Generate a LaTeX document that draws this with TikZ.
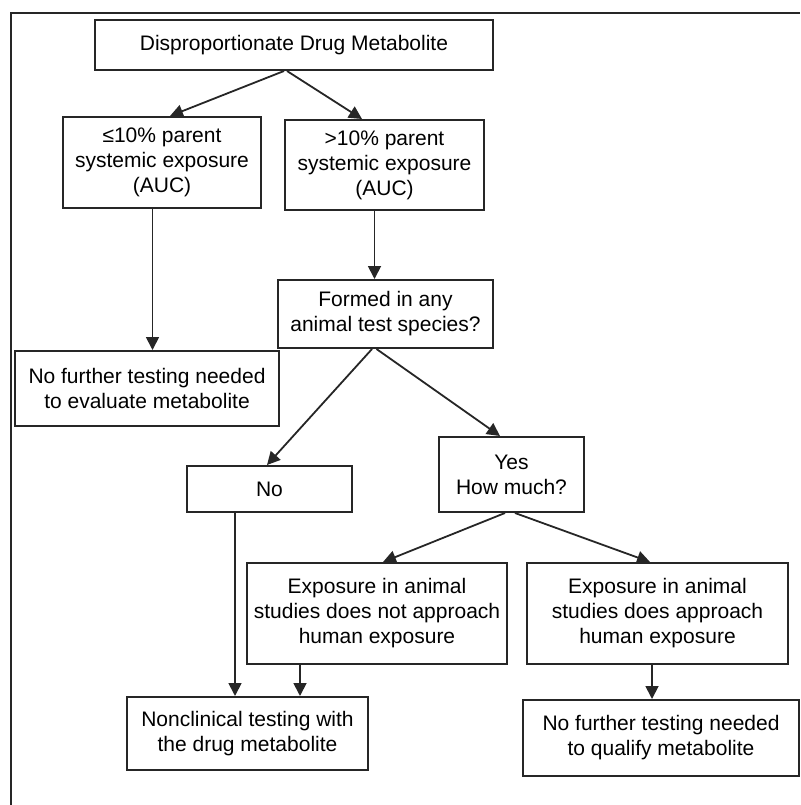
\documentclass[tikz,border=0pt]{standalone}
\usepackage{fontspec}
\setmainfont{Liberation Sans}
\usetikzlibrary{arrows.meta,calc}
\begin{document}
\begin{tikzpicture}[x=1pt,y=-1pt,
  box/.style={draw=black!85,line width=2pt,rectangle,align=center,inner sep=0pt,
    font=\fontsize{21}{25}\selectfont,text=black},
  arr/.style={draw=black!85,line width=1.8pt,-{Triangle[length=13pt,width=13pt]}},
  frame/.style={draw=black!85,line width=2.5pt}]
\useasboundingbox (0,0) rectangle (800,805);
\node[box,minimum width=398pt,minimum height=50pt] (top) at (294,45) {Disproportionate Drug Metabolite};
\node[box,minimum width=198pt,minimum height=91pt] (le) at (162,162.5) {≤10\% parent\\systemic exposure\\(AUC)};
\node[box,minimum width=199pt,minimum height=90pt] (gt) at (384.5,165) {>10\% parent\\systemic exposure\\(AUC)};
\node[box,minimum width=215pt,minimum height=68pt] (formed) at (385.5,314) {Formed in any\\animal test species?};
\node[box,minimum width=264pt,minimum height=75pt] (nf1) at (147,388.5) {No further testing needed\\to evaluate metabolite};
\node[box,minimum width=165pt,minimum height=46pt] (no) at (269.5,489) {No};
\node[box,minimum width=145pt,minimum height=75pt] (yes) at (511.5,474.5) {Yes\\How much?};
\node[box,minimum width=260pt,minimum height=101pt] (expnot) at (377,613.5) {Exposure in animal\\studies does not approach\\human exposure};
\node[box,minimum width=261pt,minimum height=101pt] (expapp) at (657.5,613.5) {Exposure in animal\\studies does approach\\human exposure};
\node[box,minimum width=241pt,minimum height=73pt] (nonclin) at (247.5,733.5) {Nonclinical testing with\\the drug metabolite};
\node[box,minimum width=276pt,minimum height=76pt] (nf2) at (661,738) {No further testing needed\\to qualify metabolite};
\coordinate (fbl) at (11,805);
\coordinate (ftl) at (11,13);
\coordinate (ftr) at (800,13);
\draw[frame] (fbl) -- (ftl) -- (ftr);
\draw[arr] ([xshift=-10pt]top.south) -- ([xshift=8pt]le.north);
\draw[arr] ([xshift=-7pt]top.south) -- ([xshift=-22.5pt]gt.north);
\draw[arr] ([xshift=-9.5pt]le.south) -- ([xshift=-9.5pt]le.south |- nf1.north);
\draw[arr] ([xshift=-10pt]gt.south) -- ([xshift=-10pt]gt.south |- formed.north);
\draw[arr] ([xshift=-13.5pt]formed.south) -- ([xshift=-2.5pt]no.north);
\draw[arr] ([xshift=-9pt]formed.south) -- ([xshift=-11.5pt]yes.north);
\draw[arr] ([xshift=-6.5pt]yes.south) -- ([xshift=6pt]expnot.north);
\draw[arr] ([xshift=3.5pt]yes.south) -- ([xshift=-7.5pt]expapp.north);
\draw[arr] ([xshift=-34.5pt]no.south) -- ([xshift=-34.5pt]no.south |- nonclin.north);
\draw[arr] ([xshift=-77pt]expnot.south) -- ([xshift=-77pt]expnot.south |- nonclin.north);
\draw[arr] ([xshift=-5.5pt]expapp.south) -- ([xshift=-5.5pt]expapp.south |- nf2.north);
\end{tikzpicture}
\end{document}
